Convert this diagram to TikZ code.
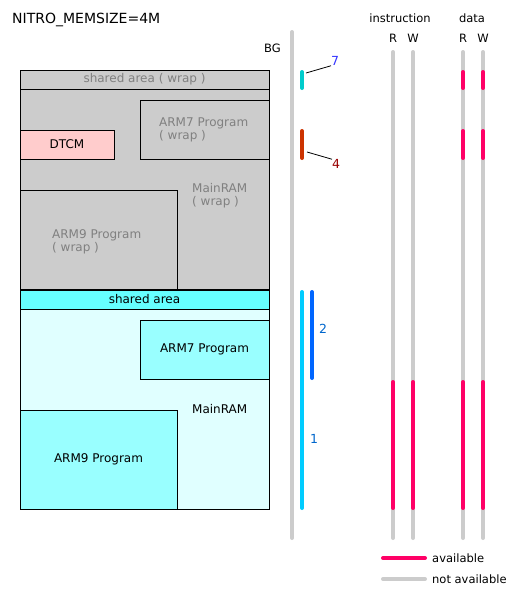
\documentclass[tikz,border=0pt]{standalone}
\usepackage{fontspec}
\setmainfont{DejaVu Sans}
\usetikzlibrary{positioning}

\definecolor{wrapgray}{HTML}{CCCCCC}
\definecolor{wraptext}{HTML}{808080}
\definecolor{dtcmpink}{HTML}{FFCCCC}
\definecolor{sharedcyan}{HTML}{66FFFF}
\definecolor{mainlight}{HTML}{E0FFFF}
\definecolor{progcyan}{HTML}{99FFFF}
\definecolor{availpink}{HTML}{FF0066}
\definecolor{bgteal}{HTML}{00CCCC}
\definecolor{bgrust}{HTML}{CC3300}
\definecolor{bgsky}{HTML}{00CCFF}
\definecolor{bgblue}{HTML}{0066FF}

\begin{document}
\begin{tikzpicture}[x=1pt, y=-1pt,
                region/.style={draw=black, line width=0.8pt, anchor=north west, inner sep=0pt, outer sep=0pt, font=\fontsize{12}{13}\selectfont},
                wraplabel/.style={anchor=west, align=left, inner sep=0pt, text=wraptext, font=\fontsize{12}{13}\selectfont},
                mainlabel/.style={anchor=west, align=left, inner sep=0pt, font=\fontsize{12}{13}\selectfont},
                head/.style={inner sep=0pt, font=\fontsize{11.5}{13}\selectfont},
                numlabel/.style={anchor=west, inner sep=0pt, font=\fontsize{12.5}{14}\selectfont},
                bar/.style={line width=4pt, line cap=round},
                leader/.style={draw=black, line width=0.8pt}
            ]
            \useasboundingbox (0,0) rectangle (520,600);

            % title
            \node[anchor=west, inner sep=0pt, font=\fontsize{14}{16}\selectfont] (title) at (12,20) {NITRO\_MEMSIZE=4M};
            \node[anchor=east, head] (bg) at (281,48) {BG};

            % MainRAM (wrap)
            \node[region, fill=wrapgray, minimum width=249pt, minimum height=219pt] (upper) at (20,70) {};
            \node[region, fill=wrapgray, minimum width=249pt, minimum height=19pt, text=wraptext] (wshared) at (20,70) {shared area ( wrap )};
            \node[region, fill=wrapgray, minimum width=129pt, minimum height=59pt] (warm7) at (140,100) {};
            \node[region, fill=dtcmpink, minimum width=94pt, minimum height=29pt] (dtcm) at (20,130) {DTCM};
            \node[region, fill=wrapgray, minimum width=157pt, minimum height=99pt] (warm9) at (20,190) {};
            \node[wraplabel, right=19pt of warm7.west] (warm7txt) {ARM7 Program\\( wrap )};
            \node[wraplabel, right=32pt of warm9.west, yshift=-2pt] (warm9txt) {ARM9 Program\\( wrap )};
            \node[wraplabel] (wmaintxt) at (192,195.5) {MainRAM\\( wrap )};

            % MainRAM
            \node[region, fill=mainlight, minimum width=249pt, minimum height=219pt] (lower) at (20,290) {};
            \node[region, fill=sharedcyan, minimum width=249pt, minimum height=19pt] (shared) at (20,290) {shared area};
            \node[region, fill=progcyan, minimum width=129pt, minimum height=59pt] (arm7) at (140,320) {ARM7 Program};
            \node[region, fill=progcyan, minimum width=157pt, minimum height=99pt] (arm9) at (20,410) {ARM9 Program};
            \node[mainlabel] (maintxt) at (192,409) {MainRAM};

            % BG bars
            \draw[bar, wrapgray] (292,32) -- (292,538);
            \draw[bar, bgteal] (302,72) -- (302,88);
            \draw[bar, bgrust] (302,131) -- (302,158);
            \draw[bar, bgsky] (302,292) -- (302,508);
            \draw[bar, bgblue] (312,292) -- (312,378);
            \node[numlabel, text={rgb,255:red,51;green,51;blue,255}] (n7) at (331,61) {7};
            \node[numlabel, text={rgb,255:red,153;green,0;blue,0}] (n4) at (332,164) {4};
            \node[numlabel, text={rgb,255:red,0;green,102;blue,204}] (n2) at (319,329) {2};
            \node[numlabel, text={rgb,255:red,0;green,102;blue,204}] (n1) at (310,439) {1};
            \coordinate (s7) at (306,73);
            \coordinate (s4) at (307,152);
            \draw[leader] (s7) -- (n7.south west);
            \draw[leader] (s4) -- (n4.north west);

            % access columns
            \node[head] (hinst) at (400,18) {instruction};
            \node[head] (hdata) at (472,18) {data};
            \foreach \x/\n/\t in {393/iR/R, 413/iW/W, 463/dR/R, 483/dW/W} {
                \node[head] (h\n) at (\x,38) {\t};
                \draw[bar, wrapgray] (\x,52) -- (\x,538);
                \draw[bar, availpink] (\x,382) -- (\x,508);
            }
            \foreach \x in {463, 483} {
                \draw[bar, availpink] (\x,72) -- (\x,88);
                \draw[bar, availpink] (\x,131) -- (\x,158);
            }

            % legend
            \draw[bar, availpink] (383,558) -- (425,558);
            \draw[bar, wrapgray] (383,579) -- (425,579);
            \node[mainlabel, font=\fontsize{11.5}{13}\selectfont] (lavail) at (432,558) {available};
            \node[mainlabel, font=\fontsize{11.5}{13}\selectfont] (lnot) at (432,579) {not available};

        \end{tikzpicture}
\end{document}
